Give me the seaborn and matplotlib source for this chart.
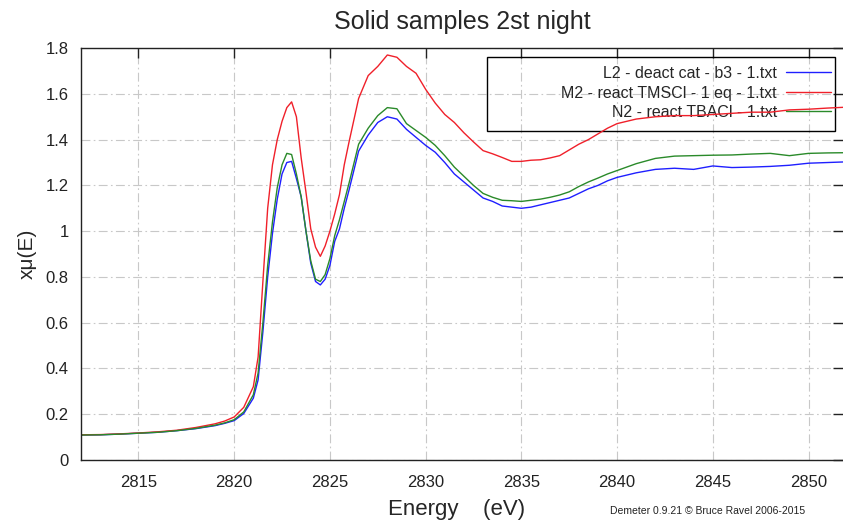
import matplotlib
matplotlib.use("Agg")
import matplotlib.pyplot as plt
from matplotlib.patches import Rectangle
from matplotlib.ticker import FormatStrFormatter, MultipleLocator
import pandas as pd
import seaborn as sns

# energy grid (eV)
energy = [2812, 2813, 2814, 2815, 2816, 2817, 2818, 2819, 2819.5, 2820, 2820.5,
          2821, 2821.25, 2821.5, 2821.75, 2822, 2822.25, 2822.5, 2822.75, 2823,
          2823.25, 2823.5, 2823.75, 2824, 2824.25, 2824.5, 2824.75, 2825, 2825.25,
          2825.5, 2825.75, 2826, 2826.5, 2827, 2827.5, 2828, 2828.5, 2829, 2829.5,
          2830, 2830.5, 2831, 2831.5, 2832, 2832.5, 2833, 2833.5, 2834, 2834.5,
          2835, 2835.5, 2836, 2836.5, 2837, 2837.5, 2838, 2838.5, 2839, 2839.5,
          2840, 2841, 2842, 2843, 2844, 2845, 2846, 2847, 2848, 2849, 2850, 2851, 2852]

l2_deact = [0.109, 0.110, 0.113, 0.117, 0.121, 0.128, 0.137, 0.150, 0.160, 0.172, 0.203,
            0.270, 0.350, 0.560, 0.800, 0.990, 1.140, 1.250, 1.300, 1.305,
            1.230, 1.150, 1.000, 0.860, 0.780, 0.765, 0.790, 0.850, 0.955,
            1.010, 1.100, 1.180, 1.350, 1.420, 1.475, 1.500, 1.490, 1.445, 1.410,
            1.375, 1.345, 1.300, 1.250, 1.215, 1.180, 1.145, 1.130, 1.110, 1.105,
            1.100, 1.105, 1.115, 1.125, 1.135, 1.145, 1.165, 1.185, 1.200, 1.220,
            1.235, 1.255, 1.270, 1.275, 1.270, 1.285, 1.278, 1.280, 1.283, 1.288, 1.297, 1.300, 1.303]

m2_tmscl = [0.110, 0.111, 0.114, 0.118, 0.123, 0.130, 0.142, 0.158, 0.170, 0.188, 0.230,
            0.320, 0.450, 0.780, 1.100, 1.290, 1.400, 1.480, 1.540, 1.565,
            1.500, 1.320, 1.170, 1.010, 0.930, 0.890, 0.935, 1.000, 1.075,
            1.160, 1.290, 1.390, 1.580, 1.680, 1.720, 1.770, 1.760, 1.720, 1.690,
            1.620, 1.560, 1.510, 1.475, 1.430, 1.390, 1.352, 1.338, 1.322, 1.305,
            1.305, 1.310, 1.312, 1.320, 1.330, 1.355, 1.380, 1.400, 1.425, 1.450,
            1.470, 1.490, 1.500, 1.505, 1.505, 1.510, 1.515, 1.520, 1.520, 1.530, 1.533, 1.538, 1.542]

n2_tbacl = [0.109, 0.110, 0.113, 0.117, 0.121, 0.128, 0.138, 0.152, 0.162, 0.176, 0.210,
            0.285, 0.380, 0.600, 0.850, 1.040, 1.190, 1.290, 1.340, 1.335,
            1.250, 1.150, 1.000, 0.870, 0.790, 0.780, 0.810, 0.880, 0.980,
            1.050, 1.130, 1.210, 1.380, 1.450, 1.505, 1.540, 1.535, 1.470, 1.440,
            1.410, 1.375, 1.330, 1.280, 1.240, 1.200, 1.165, 1.148, 1.135, 1.133,
            1.130, 1.135, 1.140, 1.148, 1.158, 1.172, 1.195, 1.215, 1.232, 1.250,
            1.265, 1.295, 1.318, 1.328, 1.330, 1.332, 1.333, 1.337, 1.340, 1.330, 1.340, 1.342, 1.343]

labels = ["L2 - deact cat - b3 - 1.txt",
          "M2 - react TMSCl - 1 eq - 1.txt",
          "N2 - react TBACl - 1.txt"]
colors = ["#1f1fff", "#f0202a", "#2a8a2a"]

frames = []
for lab, vals in zip(labels, [l2_deact, m2_tmscl, n2_tbacl]):
    frames.append(pd.DataFrame({"energy": energy, "xmu": vals, "sample": lab}))
df = pd.concat(frames, ignore_index=True)

sns.set_style("white")
plt.rcParams['font.family'] = ['Liberation Sans', 'DejaVu Sans']

fig = plt.figure(figsize=(8.43, 5.23), dpi=100)
ax = fig.add_axes([0.0961, 0.1205, 0.9039, 0.7875])

# legend frame, drawn under the curves (no fill)
ax.add_patch(Rectangle((0.533, 0.799), 0.4565, 0.179, transform=ax.transAxes,
                       fill=False, edgecolor='black', linewidth=1.0, zorder=1.5))

sns.lineplot(data=df, x="energy", y="xmu", hue="sample", hue_order=labels,
             palette=colors, linewidth=1.0, ax=ax, legend=False, sort=False)

ax.set_xlim(2812, 2851.8)
ax.set_ylim(0, 1.8)
ax.xaxis.set_major_locator(MultipleLocator(5))
ax.yaxis.set_major_locator(MultipleLocator(0.2))
ax.yaxis.set_major_formatter(FormatStrFormatter('%g'))
ax.tick_params(direction='in', length=7, width=1, top=True, right=True,
               labelsize=12, colors='#222222')
ax.tick_params(axis='x', pad=11)
ax.tick_params(axis='y', pad=9)
ax.grid(True, color='#c8c8c8', linewidth=0.8, linestyle=(0, (8, 3, 1.5, 3)))
for side in ['left', 'bottom', 'top']:
    ax.spines[side].set_color('#222222')
    ax.spines[side].set_linewidth(1.0)
ax.spines['right'].set_visible(False)
ax.set_xlabel("")
ax.set_ylabel("xμ(E)", fontsize=15, labelpad=6)

handles = [plt.Line2D([], [], color=c, linewidth=1.0) for c in colors]
leg = ax.legend(handles, labels, loc='upper right', bbox_to_anchor=(0.992, 0.972),
                frameon=False, markerfirst=False, fontsize=11.5, handlelength=2.8,
                handletextpad=0.55, labelspacing=0.28, borderaxespad=0)
leg.set_zorder(1.6)
for t in leg.get_texts():
    t.set_ha('right')
leg._legend_box.align = 'right'

fig.text(0.548, 0.958, "Solid samples 2st night", ha='center', va='center', fontsize=18)
fig.text(0.541, 0.025, "Energy    (eV)", ha='center', va='center', fontsize=16)
fig.text(0.839, 0.023, "Demeter 0.9.21 \u00a9 Bruce Ravel 2006-2015", ha='center',
         va='center', fontsize=7.5, color='#222222')

fig.savefig("out.png", dpi=100)
